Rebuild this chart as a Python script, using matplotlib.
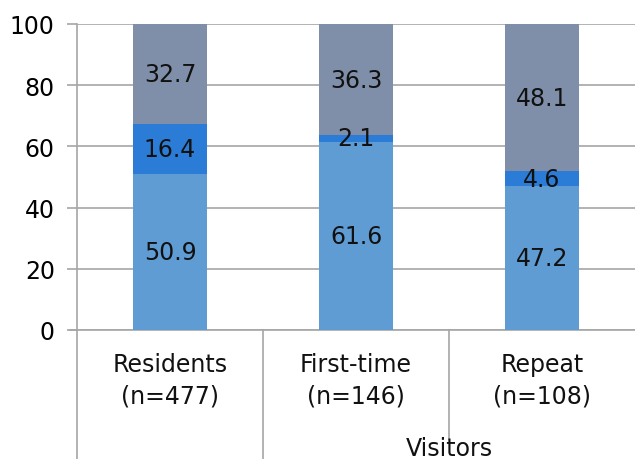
import matplotlib.pyplot as plt
import numpy as np

plt.rcParams['font.family'] = ['DejaVu Sans']

categories = ['Residents\n(n=477)', 'First-time\n(n=146)', 'Repeat\n(n=108)']
group_label = 'Visitors'
bottom_vals = [50.9, 61.6, 47.2]
middle_vals = [16.4, 2.1, 4.6]
top_vals = [32.7, 36.3, 48.1]
yticks = [0, 20, 40, 60, 80, 100]

colors = ['#5E9CD3', '#2B7CD6', '#7F8FA9']

fig = plt.figure(figsize=(6.35, 4.6), dpi=100)
ax = fig.add_axes([77 / 635, (460 - 331) / 460, (635 - 77) / 635, 306 / 460])

x = np.arange(len(categories))
w = 0.40
grey = '#A6A6A6'
fs = 17

series = [bottom_vals, middle_vals, top_vals]
base = np.zeros(len(categories))
for vals, c in zip(series, colors):
    bars = ax.bar(x, vals, w, bottom=base, color=c, zorder=3)
    for b, v, b0 in zip(bars, vals, base):
        ax.text(b.get_x() + b.get_width() / 2, b0 + v / 2, '%.1f' % v,
                ha='center', va='center', fontsize=fs, color='#111111', zorder=4)
    base = base + np.array(vals)

ax.set_xlim(-0.5, len(categories) - 0.5)
ax.set_ylim(0, 100)
ax.set_yticks(yticks)
ax.tick_params(axis='y', labelsize=fs, length=7, color=grey, width=1.2, pad=9)
ax.tick_params(axis='x', length=0, labelbottom=False)
ax.yaxis.grid(True, color=grey, linewidth=1.2, zorder=0)

for s in ['top', 'right']:
    ax.spines[s].set_visible(False)
ax.spines['left'].set_color(grey)
ax.spines['left'].set_linewidth(1.2)
ax.spines['bottom'].set_color(grey)
ax.spines['bottom'].set_linewidth(1.2)

# category labels and separators below the axis
tr = ax.get_xaxis_transform()
for xi, lab in zip(x, categories):
    ax.text(xi, -0.163, lab, transform=tr, ha='center', va='center',
            fontsize=fs, color='#111111', linespacing=1.4)

ax.plot([-0.5, -0.5], [0, -0.42], transform=tr, color=grey, lw=1.2, clip_on=False)
ax.plot([0.5, 0.5], [0, -0.42], transform=tr, color=grey, lw=1.2, clip_on=False)
ax.plot([1.5, 1.5], [0, -0.357], transform=tr, color=grey, lw=1.2, clip_on=False)
ax.plot([-0.535, -0.5], [0, 0], transform=tr, color=grey, lw=1.2, clip_on=False)
ax.text(1.5, -0.385, group_label, transform=tr, ha='center', va='center',
        fontsize=fs, color='#111111')

fig.savefig('out.png')
